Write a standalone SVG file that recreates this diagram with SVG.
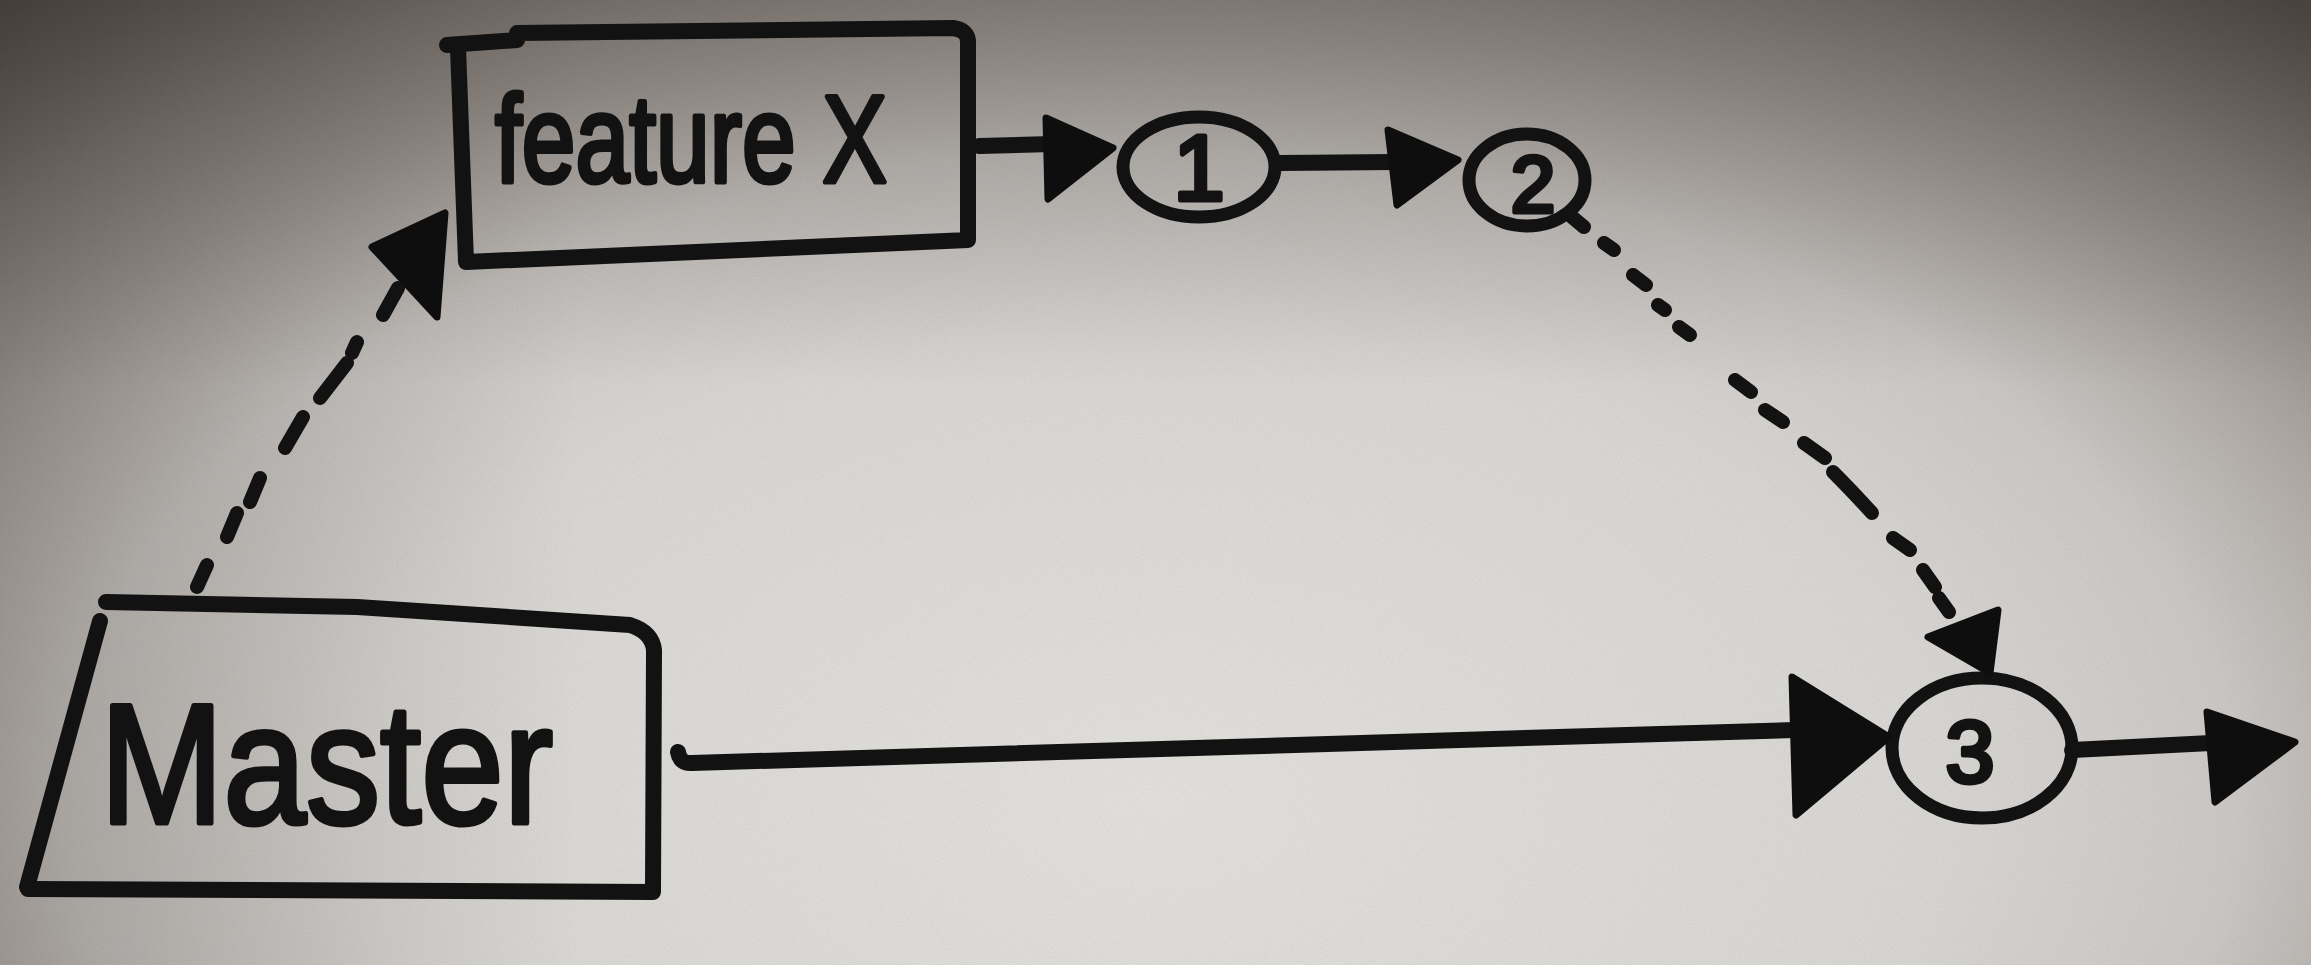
<svg xmlns="http://www.w3.org/2000/svg" width="2311" height="965" viewBox="0 0 2311 965">
  <defs>
    <radialGradient id="bg" gradientUnits="userSpaceOnUse" cx="1150" cy="800" r="1750" gradientTransform="translate(1150 800) scale(1 0.6) translate(-1150 -800)">
      <stop offset="0" stop-color="#e2e1de"/>
      <stop offset="0.45" stop-color="#d9d7d4"/>
      <stop offset="0.62" stop-color="#cbc8c5"/>
      <stop offset="0.72" stop-color="#b2ada9"/>
      <stop offset="0.86" stop-color="#8a837e"/>
      <stop offset="1" stop-color="#564e48"/>
    </radialGradient>
    <linearGradient id="topshade" x1="0" y1="0" x2="0" y2="1">
      <stop offset="0" stop-color="#3a322c" stop-opacity="0.35"/>
      <stop offset="0.4" stop-color="#3a322c" stop-opacity="0"/>
    </linearGradient>
    <linearGradient id="leftshade" x1="0" y1="0" x2="1" y2="0">
      <stop offset="0" stop-color="#3a322c" stop-opacity="0.25"/>
      <stop offset="0.25" stop-color="#3a322c" stop-opacity="0"/>
    </linearGradient>
    <filter id="grain" x="0" y="0" width="100%" height="100%">
      <feTurbulence type="fractalNoise" baseFrequency="0.9" numOctaves="2" seed="3" result="n"/>
      <feColorMatrix type="matrix" values="0 0 0 0 0  0 0 0 0 0  0 0 0 0 0  0 0 0 -1.2 0.9"/>
    </filter>
    <style>
      .ink { fill: none; stroke: #121212; stroke-width: 16; stroke-linecap: round; stroke-linejoin: round; }
      .thin { fill: none; stroke: #121212; stroke-width: 13; stroke-linecap: round; stroke-linejoin: round; }
      .head { fill: #0e0e0e; stroke: #0e0e0e; stroke-width: 7; stroke-linejoin: round; }
      .dash { fill: none; stroke: #121212; stroke-width: 14; stroke-linecap: round; }
      .hand { font-family: "Liberation Sans", "DejaVu Sans", sans-serif; fill: #121212; stroke: #121212; stroke-width: 5; stroke-linejoin: round; }
    </style>
  </defs>

  <!-- paper background -->
  <rect x="0" y="0" width="2311" height="965" fill="url(#bg)"/>
  <rect x="0" y="0" width="2311" height="965" fill="url(#topshade)"/>
  <rect x="0" y="0" width="2311" height="965" fill="url(#leftshade)"/>
  <rect x="0" y="0" width="2311" height="965" filter="url(#grain)" opacity="0.06"/>

  <!-- nodes -->
  <g id="node-feature-x">
    <path class="ink" d="M 447,45 L 517,40 L 517,33 L 953,28 Q 968,30 968,42 L 968,240 L 466,262 L 458,48"/>
    <text class="hand" x="495" y="182" font-size="125" textLength="392" lengthAdjust="spacingAndGlyphs">feature X</text>
  </g>

  <g id="node-master">
    <path class="ink" d="M 106,602 L 357,607 L 630,625 Q 652,632 654,650 L 653,892 L 28,889"/>
    <path class="ink" d="M 100,621 L 27,887"/>
    <text class="hand" x="100" y="823" font-size="170" textLength="453" lengthAdjust="spacingAndGlyphs">Master</text>
  </g>

  <g id="node-1">
    <ellipse class="thin" cx="1199" cy="167" rx="76" ry="50"/>
    <text class="hand" x="1199" y="200" font-size="92" text-anchor="middle">1</text>
  </g>

  <g id="node-2">
    <ellipse class="thin" cx="1527" cy="180" rx="58" ry="46"/>
    <text class="hand" x="1533" y="212" font-size="80" text-anchor="middle">2</text>
  </g>

  <g id="node-3">
    <ellipse class="thin" cx="1982" cy="748" rx="90" ry="70"/>
    <text class="hand" x="1970" y="782" font-size="88" text-anchor="middle">3</text>
  </g>

  <!-- connectors -->
  <g id="connectors">
    <!-- feature X -> 1 -->
    <path class="ink" d="M 979,146 L 1052,144"/>
    <polygon class="head" points="1046,118 1113,148 1048,199"/>

    <!-- 1 -> 2 -->
    <path class="ink" d="M 1280,163 L 1395,162"/>
    <polygon class="head" points="1388,130 1458,160 1397,205"/>

    <!-- Master -> feature X (dashed) -->
    <path class="dash" d="M 197,587 L 207,565 M 227,537 L 237,513 M 250,502 L 260,478 M 285,448 L 303,417 M 320,398 L 347,363 M 352,353 L 357,342 M 383,315 L 398,288"/>
    <polygon class="head" points="372,247 445,213 437,317"/>

    <!-- 2 -> 3 (dotted) -->
    <path class="dash" d="M 1572,217 L 1584,227 M 1604,243 L 1614,250 M 1633,275 L 1646,285 M 1658,305 L 1665,310 M 1679,327 L 1690,335 M 1735,380 L 1751,392 M 1765,410 L 1783,422 M 1804,443 L 1825,458 M 1833,472 Q 1851,490 1872,513 M 1893,538 L 1910,550 M 1923,570 L 1935,587 M 1939,598 L 1949,612"/>
    <polygon class="head" points="1928,637 1998,610 1990,673"/>

    <!-- Master -> 3 -->
    <path class="ink" d="M 678,752 Q 680,764 692,763 L 1795,730"/>
    <polygon class="head" points="1792,677 1889,737 1796,815"/>

    <!-- 3 -> out -->
    <path class="ink" d="M 2072,750 L 2211,743"/>
    <polygon class="head" points="2207,712 2295,742 2215,802"/>
  </g>
</svg>
